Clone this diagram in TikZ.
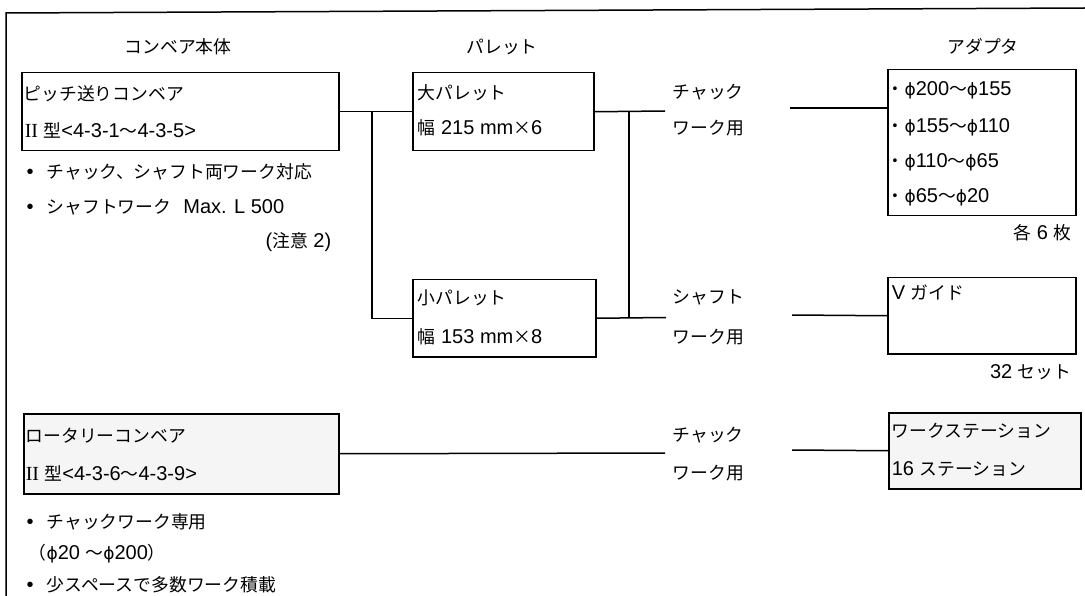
\documentclass[tikz,border=0pt]{standalone}
\usepackage{fontspec}
\setmainfont{Liberation Sans}
\newfontfamily\jp{Noto Sans CJK JP}[Scale=0.89]
\newfontfamily\rmser{Liberation Serif}
\newfontfamily\dv{DejaVu Sans}
\newcommand\phis{{\dv\fontsize{17}{20}\selectfont ϕ}}
\newcommand\rom{{\rmser II}}
\begin{document}
\begin{tikzpicture}[x=1pt,y=-1pt,
  line width=1.5pt,
  box/.style={draw, line width=1.5pt, inner sep=0pt, anchor=north west},
  shaded/.style={fill=black!4},
  txt/.style={inner sep=0pt, anchor=west, font=\fontsize{20}{24}\selectfont},
  rtxt/.style={txt, anchor=east},
  ctxt/.style={txt, anchor=center}]
\useasboundingbox (0,0) rectangle (1085,596);
% frame
\draw (6,596) -- (6,13) -- (1085,8);
% headers
\node[ctxt] (h1) at (178,47) {\jp コンベア本体};
\node[ctxt] (h2) at (502,47) {\jp パレット};
\node[ctxt] (h3) at (983,47) {\jp アダプタ};
% boxes
\node[box, minimum width=317pt, minimum height=78pt] (b1) at (21,72) {};
\node[box, minimum width=181pt, minimum height=78pt] (bigpal) at (412,72) {};
\node[box, minimum width=183pt, minimum height=77pt] (smallpal) at (412,279) {};
\node[box, minimum width=188pt, minimum height=146pt] (adapter) at (887,69) {};
\node[box, minimum width=188pt, minimum height=76pt] (vguide) at (887,277) {};
\node[box, shaded, minimum width=315pt, minimum height=80pt] (rot) at (23,413) {};
\node[box, shaded, minimum width=192pt, minimum height=76pt] (ws) at (888,412) {};
% box texts
\node[txt] (t1a) at (23,94) {\jp ピッチ送りコンベア};
\node[txt] (t1b) at (24,130) {\rom\ {\jp 型}<4-3-1{\jp ～}4-3-5>};
\node[txt] (bl1) at (26,172) {•\hspace{13pt}{\jp チャック、シャフト両ワーク対応}};
\node[txt] (bl2) at (26,207) {•\hspace{13pt}{\jp シャフトワーク}\hspace{12pt}Max. L 500};
\node[rtxt] (note) at (332,242) {({\jp 注意} 2)};
\node[txt] (p1a) at (417,93) {\jp 大パレット};
\node[txt] (p1b) at (417,128) {{\jp 幅} 215 mm{\jp ×}6};
\node[txt] (p2a) at (417,298) {\jp 小パレット};
\node[txt] (p2b) at (417,337) {{\jp 幅} 153 mm{\jp ×}8};
\node[txt] (l1a) at (672,92) {\jp チャック};
\node[txt] (l1b) at (672,128) {\jp ワーク用};
\node[txt] (l2a) at (672,297) {\jp シャフト};
\node[txt] (l2b) at (672,337) {\jp ワーク用};
\node[txt] (l3a) at (672,435) {\jp チャック};
\node[txt] (l3b) at (672,473) {\jp ワーク用};
\node[txt] (a1) at (886,90) {{\jp ・}\phis200{\jp ～}\phis155};
\node[txt] (a2) at (886,127) {{\jp ・}\phis155{\jp ～}\phis110};
\node[txt] (a3) at (886,162) {{\jp ・}\phis110{\jp ～}\phis65};
\node[txt] (a4) at (886,197) {{\jp ・}\phis65{\jp ～}\phis20};
\node[rtxt] (each) at (1072,233) {{\jp 各} 6 {\jp 枚}};
\node[txt] (vg) at (891,293) {V {\jp ガイド}};
\node[rtxt] (sets) at (1072,372) {32 {\jp セット}};
\node[txt] (r1a) at (25,436) {\jp ロータリーコンベア};
\node[txt] (r1b) at (25,473) {\rom\ {\jp 型}<4-3-6{\jp ～}4-3-9>};
\node[txt] (w1a) at (891,431) {\jp ワークステーション};
\node[txt] (w1b) at (891,469) {16 {\jp ステーション}};
\node[txt] (bl3) at (26,522) {•\hspace{13pt}{\jp チャックワーク専用}};
\node[txt] (bl4) at (28,554) {{\jp （}\phis20 {\jp ～}\phis200{\jp ）}};
\node[txt] (bl5) at (26,585) {•\hspace{13pt}{\jp 少スペースで多数ワーク積載}};
% connector points
\coordinate (jA) at (372,111);
\coordinate (jB) at (629,111);
\coordinate (cA) at (665,111);
\coordinate (cB) at (666,317.5);
\coordinate (cC) at (790,108);
\coordinate (cD) at (792,315);
\coordinate (cE) at (665,453);
\coordinate (cF) at (792,450);
% connectors
\draw (b1.east) -- (bigpal.west);
\draw (jA) |- (smallpal.west);
\draw (bigpal.east) -- (cA);
\draw (smallpal.east) -- (cB);
\draw (jB) -- (jB |- smallpal.east);
\draw (cC) -- (cC -| adapter.west);
\draw (cD) -- (vguide.west);
\draw (rot.east) -- (cE);
\draw (cF) -- (ws.west);
\end{tikzpicture}
\end{document}
